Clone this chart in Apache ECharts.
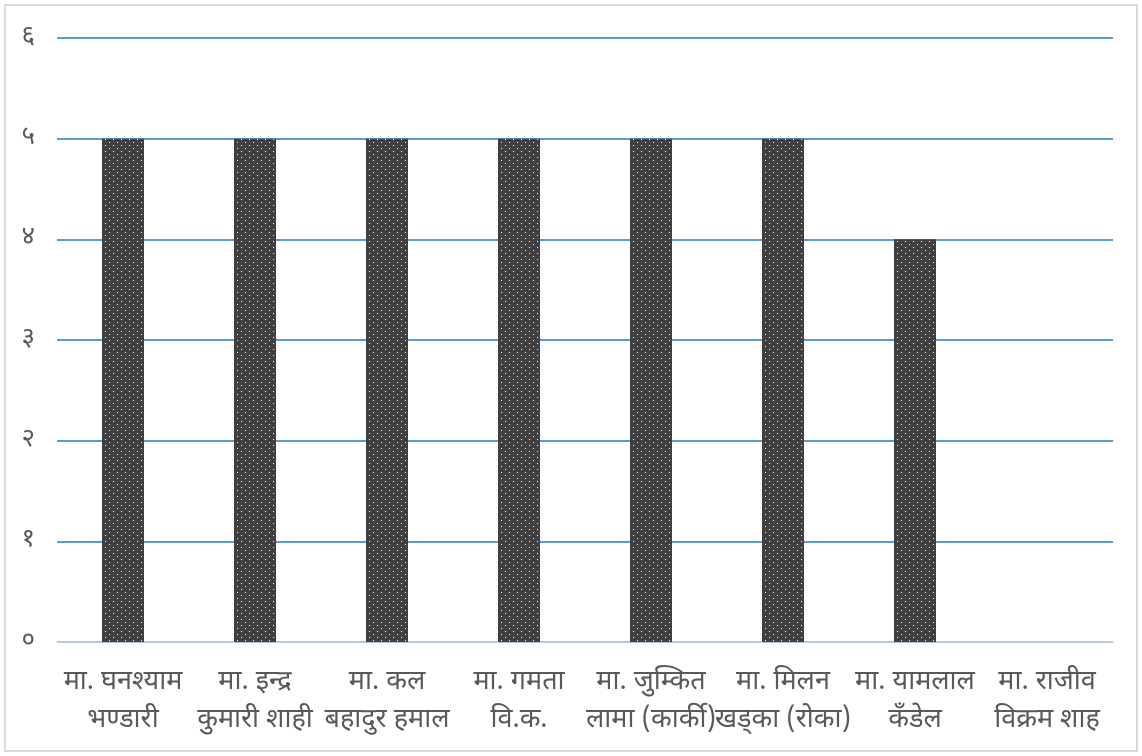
<!DOCTYPE html>
<html><head><meta charset="utf-8">
<script src="https://cdn.jsdelivr.net/npm/echarts@6/dist/echarts.min.js"></script>
<style>html,body{margin:0;padding:0;background:#fff}#c{width:1142px;height:756px}</style>
</head><body><div id="c"></div>
<script>
const categories = ['मा. घनश्याम\nभण्डारी','मा. इन्द्र\nकुमारी शाही','मा. कल\nबहादुर हमाल','मा. गमता\nवि.क.','मा. जुम्कित\nलामा (कार्की)','मा. मिलन\nखड्का (रोका)','मा. यामलाल\nकँडेल','मा. राजीव\nविक्रम शाह'];
const values = [5,5,5,5,5,5,4,0];
const yTickLabels = ['०','१','२','३','४','५','६'];

const pc = document.createElement('canvas');
pc.width = 8; pc.height = 6;
const g = pc.getContext('2d');
g.fillStyle = '#404040'; g.fillRect(0,0,8,6);
g.fillStyle = '#f2f2f2';
g.fillRect(1,1,1,1); g.fillRect(5,4,1,1);

const font = "'Noto Sans Devanagari','Noto Sans','Lohit Devanagari',sans-serif";
const chart = echarts.init(document.getElementById('c'));
chart.setOption({
  animation:false,
  graphic:[{type:'rect',shape:{x:5,y:5,width:1132,height:746},style:{fill:'none',stroke:'#d9d9d9',lineWidth:2}}],
  grid:{left:57,right:29,top:38,bottom:114},
  xAxis:{type:'category',data:categories,
    axisLine:{lineStyle:{color:'#d9d9d9',width:1.5}},axisTick:{show:false},
    axisLabel:{color:'#595959',fontSize:27,lineHeight:38,margin:23,interval:0,fontFamily:font}},
  yAxis:{type:'value',min:0,max:6,interval:1,
    axisLine:{show:false},axisTick:{show:false},
    splitLine:{lineStyle:{color:'#5b9bd5',width:2}},
    axisLabel:{color:'#595959',fontSize:26,margin:22,fontFamily:font,formatter:v=>yTickLabels[v]}},
  series:[{type:'bar',data:values,barWidth:42,itemStyle:{color:{image:pc,repeat:'repeat'}}}]
});
</script></body></html>
